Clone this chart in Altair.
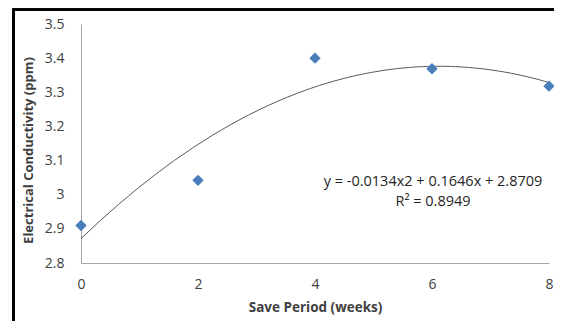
import altair as alt
import pandas as pd

weeks = [0, 2, 4, 6, 8]
ec = [2.91, 3.042, 3.40, 3.369, 3.318]
eq_text = "y = -0.0134x2 + 0.1646x + 2.8709"
r2_text = "R² = 0.8949"
y_ticks = [2.8, 2.9, 3.0, 3.1, 3.2, 3.3, 3.4, 3.5]
x_ticks = [0, 2, 4, 6, 8]

df = pd.DataFrame({"week": weeks, "ec": ec})

FONT = "Open Sans"
TXT = "#404040"

x_enc = alt.X("week:Q", scale=alt.Scale(domain=[0, 8], nice=False),
              axis=alt.Axis(values=x_ticks, title="Save Period (weeks)", grid=False,
                            ticks=False, domainColor="#a6a6a6", labelPadding=14,
                            labelFontSize=14, labelColor=TXT, labelFont=FONT,
                            titleFont=FONT, titleFontSize=13.5, titleFontWeight="bold",
                            titleColor=TXT, titlePadding=9, labelFlush=False))
y_enc = alt.Y("ec:Q", scale=alt.Scale(domain=[2.8, 3.5], nice=False, zero=False),
              axis=alt.Axis(values=y_ticks, title="Electrical Conductivity (ppm)", grid=False,
                            ticks=False, domainColor="#a6a6a6", labelPadding=17,
                            labelFontSize=14, labelColor=TXT, labelFont=FONT,
                            labelExpr="format(datum.value, '.1~f')",
                            titleFont=FONT, titleFontSize=13, titleFontWeight="bold",
                            titleColor=TXT, titlePadding=9, titleY=126, labelFlush=False))

base = alt.Chart(df)

trend = base.transform_regression("week", "ec", method="poly", order=2, extent=[0, 8]).mark_line(
    color="#595959", strokeWidth=1).encode(x=x_enc, y=y_enc)

pts = base.mark_point(shape="diamond", filled=True, size=130, color="#4a7ebb", opacity=1).encode(
    x=x_enc, y=y_enc)

eq1 = alt.Chart(pd.DataFrame({"t": [eq_text]})).mark_text(
    font=FONT, fontSize=14.5, color="#262626", align="center", baseline="middle").encode(
    x=alt.value(352), y=alt.value(158), text="t:N")
eq2 = alt.Chart(pd.DataFrame({"t": [r2_text]})).mark_text(
    font=FONT, fontSize=14.5, color="#262626", align="center", baseline="middle").encode(
    x=alt.value(352), y=alt.value(178), text="t:N")

border = alt.Chart(df).mark_rect(fill=None, stroke="black", strokeWidth=2.2).encode(
    x=alt.value(-67.5), x2=alt.value(560), y=alt.value(-14.5), y2=alt.value(400))

chart = alt.layer(border, trend, pts, eq1, eq2).properties(
    width=468, height=239,
    padding={"left": 73, "top": 16, "right": 5, "bottom": 58},
    autosize=alt.AutoSizeParams(type="none"),
).configure_view(stroke=None)

chart.save("out.html", embed_options={"renderer": "svg", "actions": False})
